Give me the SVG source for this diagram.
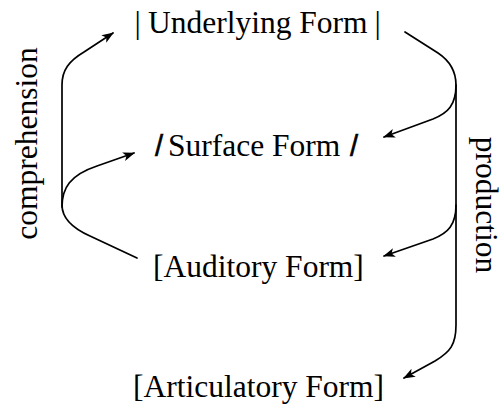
<svg xmlns="http://www.w3.org/2000/svg" width="503" height="405" viewBox="0 0 503 405">
<defs>
<style>
.lbl{font-family:"Liberation Serif","Times New Roman",serif;font-size:31.5px;fill:#000}
.sl{font-family:"Liberation Sans",Arial,sans-serif;font-size:29px;fill:#000;stroke:#000;stroke-width:0.6}
.c{fill:none;stroke:#000;stroke-width:1.7;stroke-linecap:round;stroke-linejoin:round}
</style>
<marker id="ah" viewBox="0 0 12 9" refX="11" refY="4.5" markerWidth="12" markerHeight="9" markerUnits="userSpaceOnUse" orient="auto">
<path d="M0,0 L12,4.5 L0,9 L3,4.5 z" fill="#000"/>
</marker>
</defs>
<rect width="503" height="405" fill="#fff"/>
<g id="connectors">
<path class="c" d="M137,258 L90,236 C72,228 62,218 62,205 L62,85 C62,70 69,61 84,52 L113,33" marker-end="url(#ah)"/>
<path class="c" d="M62,207 C62,188 70,175 97,166 L134,153" marker-end="url(#ah)"/>
<path class="c" d="M405,32 L438,53 C450,61 456,72 456,85 L456,325 C456,345 450,352 435,361 L404,378" marker-end="url(#ah)"/>
<path class="c" d="M456,85 C456,105 448,113 433,119 L384,137" marker-end="url(#ah)"/>
<path class="c" d="M456,205 C456,225 448,233 433,239 L384,256" marker-end="url(#ah)"/>
</g>
<g id="node-underlying">
<text class="lbl" x="134.4" y="33">|</text>
<text class="lbl" x="148" y="33">Underlying Form</text>
<text class="lbl" x="374.4" y="33">|</text>
</g>
<g id="node-surface">
<text class="sl" x="155" y="156">/</text>
<text class="lbl" x="168" y="156">Surface Form</text>
<text class="sl" x="350" y="156">/</text>
</g>
<g id="node-auditory">
<text class="lbl" x="153" y="277">[Auditory Form]</text>
</g>
<g id="node-articulatory">
<text class="lbl" x="133" y="397">[Articulatory Form]</text>
</g>
<g id="labels">
<text class="lbl" text-anchor="middle" transform="translate(37,143.5) rotate(-90)">comprehension</text>
<text class="lbl" text-anchor="middle" transform="translate(476,205) rotate(90)">production</text>
</g>
</svg>
